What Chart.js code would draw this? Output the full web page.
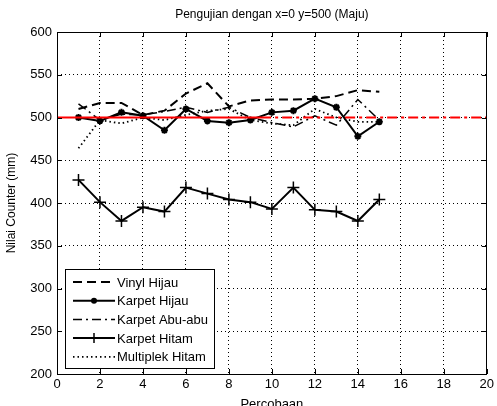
<!DOCTYPE html>
<html><head><meta charset="utf-8">
<script src="https://cdn.jsdelivr.net/npm/chart.js@4.4.0/dist/chart.umd.min.js"></script>
<style>
html,body{margin:0;padding:0;overflow:hidden;background:#fff;width:497px;height:406px}
#wrap{position:relative;width:497px;height:412px}
</style></head>
<body><div id="wrap"><canvas id="c" width="497" height="412"></canvas></div>
<script>
const chartTitle = 'Pengujian dengan x=0 y=500 (Maju)';
const xTitle = 'Percobaan';
const yTitle = 'Nilai Counter (mm)';
const trials = [1,2,3,4,5,6,7,8,9,10,11,12,13,14,15];
const seriesNames = ['Vinyl Hijau','Karpet Hijau','Karpet Abu-abu','Karpet Hitam','Multiplek Hitam'];
const vinylHijau    = [510,517,517,503,508,528,540,513,520,521,521,522,525,532,530];
const karpetHijau   = [500,496,506,502,485,510,496,494,497,506,508,522,512,478,495];
const karpetAbuAbu  = [516,497,504,503,507,512,506,512,500,494,489,502,491,521,497];
const karpetHitam   = [427,401,379,395,390,418,411,404,401,393,418,392,390,379,404];
const multiplekHitam= [464,497,493,500,497,503,508,510,497,493,491,510,500,495,495];
const refValue = 500;
const refSolidX = [0, 9.5];
const refDashX = [9.5, 20];
const xMin = 0, xMax = 20, xStep = 2;
const yMin = 200, yMax = 600, yStep = 50;

const pts = arr => trials.map((t,i)=>({x:t,y:arr[i]}));
const refPts = xs => xs.map(x=>({x:x,y:refValue}));

const styles = [
  {borderDash:[9,5], borderWidth:2, pointStyle:false},
  {borderDash:[], borderWidth:2, pointStyle:'star', pointRadius:3.5, pointBorderWidth:2},
  {borderDash:[9,4,2,4], borderWidth:1.5, pointStyle:false},
  {borderDash:[], borderWidth:2, pointStyle:'cross', pointRadius:6, pointBorderWidth:1.5},
  {borderDash:[1.5,3], borderWidth:1.8, pointStyle:false}
];
const seriesData = [vinylHijau, karpetHijau, karpetAbuAbu, karpetHitam, multiplekHitam];

const datasets = [
  {label:'ref1', data:refPts(refSolidX), borderColor:'#ff0000', borderWidth:2, pointRadius:0, fill:false},
  {label:'ref2', data:refPts(refDashX), borderColor:'#ff0000', borderWidth:2, borderDash:[10,4,3,4], pointRadius:0, fill:false}
];
seriesNames.forEach((n,i)=>{
  const s = styles[i];
  datasets.push({
    label:n, data:pts(seriesData[i]), borderColor:'#000', backgroundColor:'#000',
    borderWidth:s.borderWidth, borderDash:s.borderDash, tension:0, fill:false,
    pointStyle:s.pointStyle===false?'circle':s.pointStyle,
    pointRadius:s.pointStyle===false?0:s.pointRadius,
    pointBorderWidth:s.pointBorderWidth||1, pointBorderColor:'#000', pointBackgroundColor:'#000',
    pointHoverRadius:0
  });
});

const frame = {
  id:'frame',
  afterDraw(chart){
    const ctx = chart.ctx, ca = chart.chartArea;
    const xs = chart.scales.x, ys = chart.scales.y;
    ctx.save();
    ctx.strokeStyle = '#000'; ctx.lineWidth = 1; ctx.setLineDash([]);
    ctx.strokeRect(Math.round(ca.left)+0.5, Math.round(ca.top)+0.5, Math.round(ca.right-ca.left)-1, Math.round(ca.bottom-ca.top));
    const tl = 5;
    ctx.beginPath();
    xs.ticks.forEach(t=>{
      const px = Math.round(xs.getPixelForValue(t.value))+0.5;
      ctx.moveTo(px, ca.bottom); ctx.lineTo(px, ca.bottom-tl);
      ctx.moveTo(px, ca.top); ctx.lineTo(px, ca.top+tl);
    });
    ys.ticks.forEach(t=>{
      const py = Math.round(ys.getPixelForValue(t.value))+0.5;
      ctx.moveTo(ca.left, py); ctx.lineTo(ca.left+tl, py);
      ctx.moveTo(ca.right, py); ctx.lineTo(ca.right-tl, py);
    });
    ctx.stroke();
    // title
    ctx.fillStyle = '#000';
    ctx.font = '12px "Liberation Sans", Arial, sans-serif';
    ctx.textAlign = 'center'; ctx.textBaseline = 'middle';
    ctx.fillText(chartTitle, (ca.left+ca.right)/2, 15);
    // legend
    const bx = ca.left+8, bw = 149, rowH = 18.7, bh = 99;
    const by = ca.bottom-6-bh;
    ctx.fillStyle = '#fff';
    ctx.fillRect(bx, by, bw, bh);
    ctx.strokeStyle = '#000'; ctx.lineWidth = 1;
    ctx.strokeRect(Math.round(bx)+0.5, Math.round(by)+0.5, bw, bh);
    ctx.font = '13px "Liberation Sans", Arial, sans-serif';
    ctx.textAlign = 'left';
    seriesNames.forEach((n,i)=>{
      const s = styles[i];
      const y = by + 13 + i*rowH;
      const x0 = bx+8, x1 = bx+50;
      ctx.beginPath();
      ctx.setLineDash(s.borderDash);
      ctx.lineWidth = s.borderWidth;
      ctx.moveTo(x0, y); ctx.lineTo(x1, y); ctx.stroke();
      ctx.setLineDash([]);
      const mx = (x0+x1)/2;
      if (i===1){ ctx.beginPath(); ctx.arc(mx,y,3,0,Math.PI*2); ctx.fillStyle='#000'; ctx.fill(); }
      if (i===3){ ctx.beginPath(); ctx.lineWidth=1.5; ctx.moveTo(mx,y-5); ctx.lineTo(mx,y+5); ctx.stroke(); }
      ctx.fillStyle = '#000';
      ctx.fillText(n, bx+52, y+1);
    });
    ctx.restore();
  }
};

new Chart(document.getElementById('c'), {
  type:'line',
  data:{datasets:datasets},
  options:{
    responsive:false, animation:false, events:[],
    layout:{padding:{left:0,right:5,top:32,bottom:0}},
    plugins:{legend:{display:false}, title:{display:false}, tooltip:{enabled:false}},
    scales:{
      x:{type:'linear', min:xMin, max:xMax,
         ticks:{stepSize:xStep, color:'#000', padding:3, font:{size:13, family:'"Liberation Sans", Arial, sans-serif'}},
         grid:{color:'#000', lineWidth:1, drawTicks:false},
         border:{display:false, dash:[1,3]},
         title:{display:true, text:xTitle, color:'#000', padding:{top:0,bottom:0}, font:{size:13, family:'"Liberation Sans", Arial, sans-serif'}},
         afterFit(s){ s.height = 38; }
      },
      y:{type:'linear', min:yMin, max:yMax,
         ticks:{stepSize:yStep, color:'#000', padding:5, font:{size:13, family:'"Liberation Sans", Arial, sans-serif'}},
         grid:{color:'#000', lineWidth:1, drawTicks:false},
         border:{display:false, dash:[1,3]},
         title:{display:true, text:yTitle, color:'#000', padding:{top:4,bottom:0}, font:{size:12, family:'"Liberation Sans", Arial, sans-serif'}},
         afterFit(s){ s.width = 57; }
      }
    }
  },
  plugins:[frame]
});
</script></body></html>
